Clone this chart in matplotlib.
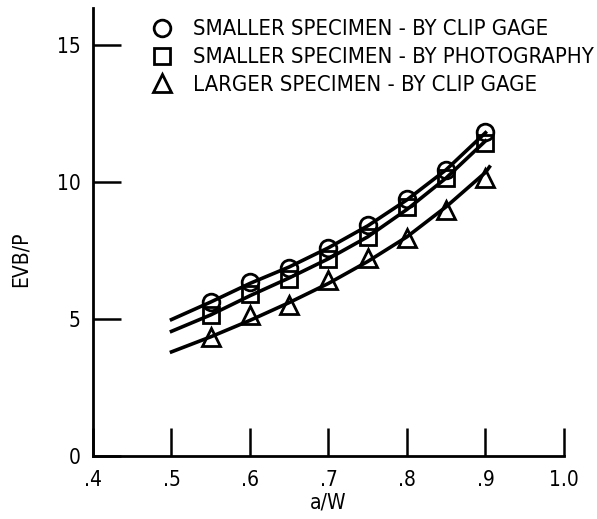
import matplotlib
matplotlib.use("Agg")
import matplotlib.pyplot as plt

# ---- data ----
aw = [0.55, 0.60, 0.65, 0.70, 0.75, 0.80, 0.85, 0.90]
small_clip = [5.62, 6.35, 6.86, 7.59, 8.43, 9.38, 10.44, 11.82]
small_photo = [5.15, 5.91, 6.46, 7.19, 7.99, 9.09, 10.15, 11.42]
large_clip = [4.34, 5.15, 5.51, 6.42, 7.23, 7.96, 8.98, 10.15]

fit_x = [0.50, 0.55, 0.60, 0.65, 0.70, 0.75, 0.80, 0.85, 0.90]
fit_small_clip = [4.98, 5.62, 6.30, 6.90, 7.60, 8.40, 9.35, 10.45, 11.80]
fit_small_photo = [4.55, 5.15, 5.85, 6.50, 7.20, 8.00, 9.00, 10.15, 11.50]
fit_large_x = [0.50, 0.55, 0.60, 0.65, 0.70, 0.75, 0.80, 0.85, 0.90, 0.905]
fit_large_clip = [3.80, 4.35, 4.95, 5.60, 6.30, 7.10, 8.00, 9.10, 10.35, 10.55]

labels = ["SMALLER SPECIMEN - BY CLIP GAGE",
          "SMALLER SPECIMEN - BY PHOTOGRAPHY",
          "LARGER SPECIMEN - BY CLIP GAGE"]
xticks = [0.4, 0.5, 0.6, 0.7, 0.8, 0.9, 1.0]
xticklabels = [".4", ".5", ".6", ".7", ".8", ".9", "1.0"]
yticks = [0, 5, 10, 15]

plt.rcParams['font.family'] = ['DejaVu Sans']
plt.rcParams['font.stretch'] = 'condensed'
FS = 15
LFS = 15.8

fig = plt.figure(figsize=(5.97, 5.19), dpi=100)
ax = fig.add_axes([93/597, 1-456/519, (564-93)/597, (456-8)/519])

lw = 2.6
ax.plot(fit_x, fit_small_clip, color='black', lw=lw)
ax.plot(fit_x, fit_small_photo, color='black', lw=lw)
ax.plot(fit_large_x, fit_large_clip, color='black', lw=lw)

mk = dict(color='black', markerfacecolor='none', markeredgewidth=2.0, linestyle='none')
h1, = ax.plot(aw, small_clip, marker='o', markersize=12, label=labels[0], **mk)
h2, = ax.plot(aw, small_photo, marker='s', markersize=11.5, label=labels[1], **mk)
h3, = ax.plot(aw, large_clip, marker='^', markersize=12.5, label=labels[2], **mk)

ax.set_xlim(0.4, 1.0)
ax.set_ylim(0, 448/27.4)
ax.set_xticks(xticks)
ax.set_xticklabels(xticklabels)
ax.set_yticks(yticks)
for s in ['top', 'right']:
    ax.spines[s].set_visible(False)
for s in ['left', 'bottom']:
    ax.spines[s].set_linewidth(2.0)
ax.tick_params(direction='in', length=20, width=1.8, labelsize=FS)
ax.tick_params(axis='x', pad=10)
ax.tick_params(axis='y', pad=9)

ax.set_xlabel("a/W", fontsize=FS, labelpad=2)
ax.set_ylabel("EVB/P", fontsize=FS)
ax.yaxis.set_label_coords(-0.132, 0.44)

leg = ax.legend(handles=[h1, h2, h3], loc='upper left',
                bbox_to_anchor=(0.085, 1.014), frameon=False, fontsize=LFS,
                handlelength=1.0, handletextpad=0.95, labelspacing=0.36,
                borderpad=0.3)

fig.savefig("out.png", dpi=100)
